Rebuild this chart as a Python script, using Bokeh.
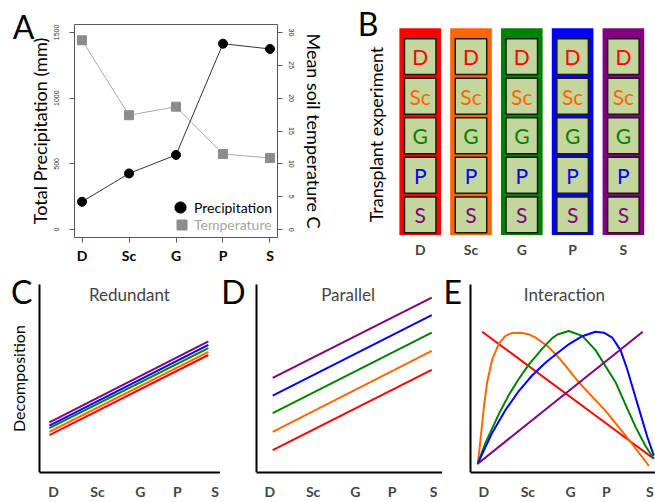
import math
from bokeh.plotting import figure
from bokeh.layouts import column, row
from bokeh.models import (Range1d, LinearAxis, FixedTicker, Label, Legend, LegendItem,
                          ColumnDataSource)
from bokeh.core.properties import value
from bokeh.embed import file_html
from bokeh.resources import INLINE

FONT = "Lato"

# ---------------- data ----------------
sites = ["D", "Sc", "G", "P", "S"]
site_pos = [1, 2, 3, 4, 5]
site_colors = ["#ff0000", "#ff6600", "#008000", "#0000ff", "#800080"]

# Panel A
precip = [212, 427, 568, 1414, 1374]
temp = [28.8, 17.4, 18.7, 11.5, 10.9]
precip_ticks = [0, 500, 1000, 1500]
temp_ticks = [0, 5, 10, 15, 20, 25, 30]

# Panel C (Redundant): start/end of the five lines
c_x = [5.4, 89.4]
c_start = [19.9, 21.6, 23.6, 25.0, 26.7]
c_end = [62.6, 64.3, 66.3, 68.0, 69.9]
c_ticks = [7.6, 30.8, 53.5, 73.0, 93.0]

# Panel D (Parallel)
d_x = [8.6, 91.3]
d_start = [11.9, 21.6, 31.6, 41.0, 50.4]
d_end = [54.7, 64.8, 74.5, 83.8, 93.2]
d_ticks = [7.1, 29.6, 51.6, 70.7, 92.3]

# Panel E (Interaction): curves
e_red_x = [6.3, 99.1]
e_red_y = [75.0, 7.3]
e_orange_x = [3.9, 5.4, 7.2, 9.0, 11.7, 15.3, 18.9, 22.5, 27.0, 31.5, 35.1, 42.3, 48.6, 58.5, 73.0, 85.6, 96.4]
e_orange_y = [4.2, 17.5, 34.5, 48.1, 60.1, 68.5, 72.8, 74.3, 74.5, 73.6, 71.9, 66.8, 60.1, 48.1, 32.8, 17.5, 3.6]
e_green_x = [3.9, 8.1, 15.3, 20.7, 26.1, 31.5, 38.8, 44.2, 47.0, 53.1, 60.4, 67.6, 73.0, 78.4, 83.8, 89.2, 94.6, 99.1]
e_green_y = [4.7, 15.8, 31.1, 41.3, 49.8, 57.5, 66.0, 71.6, 73.5, 75.4, 72.8, 65.2, 56.6, 48.1, 36.2, 24.3, 14.1, 7.3]
e_blue_x = [3.9, 11.7, 18.9, 26.1, 33.4, 40.5, 47.0, 53.1, 60.4, 67.6, 72.1, 76.6, 81.1, 84.7, 88.3, 91.9, 95.5, 99.1]
e_blue_y = [4.7, 21.1, 33.3, 43.4, 51.8, 58.5, 63.7, 68.3, 72.6, 75.0, 74.5, 71.9, 65.2, 55.0, 43.0, 31.1, 19.2, 9.0]
e_purple_x = [3.9, 93.1]
e_purple_y = [4.7, 75.0]
e_ticks = [7.2, 31.0, 54.1, 73.4, 96.9]


def base_fig(w, h, xr, yr, bl, br, bt, bb):
    p = figure(width=w, height=h, x_range=xr, y_range=yr, output_backend="svg",
               toolbar_location=None, x_axis_type=None, y_axis_type=None,
               min_border_left=bl, min_border_right=br, min_border_top=bt,
               min_border_bottom=bb)
    p.outline_line_color = None
    p.background_fill_color = "white"
    p.border_fill_color = "white"
    return p


def letter_label(txt, x, y):
    return Label(x=x, y=y, text=txt, text_font=FONT, text_font_size="32px",
                 text_baseline="alphabetic", text_color="black")


def letter_axis(tick, txt, standoff):
    ax = LinearAxis(ticker=FixedTicker(ticks=[tick]), major_label_overrides={tick: txt})
    ax.axis_line_color = None
    ax.major_tick_line_color = None
    ax.minor_tick_line_color = None
    ax.major_tick_out = 0
    ax.major_tick_in = 0
    ax.major_label_standoff = standoff
    ax.major_label_text_font = FONT
    ax.major_label_text_font_size = "32px"
    ax.major_label_text_color = "black"
    return ax


# ---------------- Panel A ----------------
pA = base_fig(340, 268, Range1d(0.84, 5.16), Range1d(-60, 1560), 74, 63, 23, 31)
pA.extra_y_ranges = {"temp": Range1d(-1.2, 31.2)}
pA.outline_line_color = "#555555"
pA.outline_line_width = 1

axb = LinearAxis(ticker=FixedTicker(ticks=site_pos),
                 major_label_overrides={k: s for k, s in zip(site_pos, sites)})
axl = LinearAxis(ticker=FixedTicker(ticks=precip_ticks), axis_label="Total Precipitation (mm)")
axr = LinearAxis(ticker=FixedTicker(ticks=temp_ticks), y_range_name="temp",
                 axis_label="Mean soil temperature C")
for ax in (axb, axl, axr):
    ax.axis_line_color = None
    ax.major_tick_out = 5
    ax.major_tick_in = 0
    ax.minor_tick_line_color = None
    ax.major_tick_line_color = "#555555"
    ax.axis_label_text_font = FONT
    ax.axis_label_text_font_style = "normal"
    ax.axis_label_text_font_size = "18px"
    ax.axis_label_text_color = "black"
axb.major_label_text_font = FONT
axb.major_label_text_font_style = "bold"
axb.major_label_text_font_size = "14px"
axb.major_label_text_color = "black"
axb.major_label_standoff = 4
for ax in (axl, axr):
    ax.major_label_text_font_size = "7px"
    ax.major_label_orientation = "vertical"
    ax.major_label_text_color = "#333333"
axl.major_label_standoff = 10
axl.axis_label_standoff = 1
axr.major_label_standoff = 6
axr.axis_label_standoff = 6
pA.add_layout(axb, "below")
pA.add_layout(axl, "left")
pA.add_layout(axr, "right")
# panel letter "A": the single tick label of an outer left axis
pA.add_layout(letter_axis(1545, "A", -9), "left")

srcA = ColumnDataSource(dict(x=site_pos, precip=precip, temp=temp))
pA.line("x", "temp", source=srcA, y_range_name="temp", line_color="#aaaaaa", line_width=1)
r_t = pA.scatter("x", "temp", source=srcA, y_range_name="temp", marker="square", size=9,
                 fill_color="#8c8c8c", line_color="#8c8c8c")
pA.line("x", "precip", source=srcA, line_color="#333333", line_width=1)
r_p = pA.scatter("x", "precip", source=srcA, marker="circle", size=9,
                 fill_color="black", line_color="black")

leg1 = Legend(items=[LegendItem(label="Precipitation", renderers=[r_p])], location=(92, 16),
              glyph_width=28, glyph_height=28, padding=0, margin=0, spacing=0,
              label_standoff=0, background_fill_alpha=0, border_line_color=None,
              label_text_font=FONT, label_text_font_size="14px", label_text_color="black",
              label_height=14)
leg2 = Legend(items=[LegendItem(label="Temperature", renderers=[r_t])], location=(95, 0),
              glyph_width=25, glyph_height=25, padding=0, margin=0, spacing=0,
              label_standoff=0, background_fill_alpha=0, border_line_color=None,
              label_text_font=FONT, label_text_font_size="14px", label_text_color="#a6a6a6",
              label_height=14)
pA.add_layout(leg1)
pA.add_layout(leg2)

# ---------------- Panel B ----------------
# frame shares top/bottom with panel A (y 23..237 of the row)
pB = base_fig(315, 268, Range1d(-0.569, 5.632), Range1d(5.574, 0.186), 0, 0, 23, 31)
col_src = ColumnDataSource(dict(x=site_pos, color=site_colors))
pB.rect(x="x", y=2.894, width=0.82, height=5.23, source=col_src,
        fill_color="color", line_color=None)
cell_x, cell_y, cell_txt, cell_col = [], [], [], []
for xi in site_pos:
    for j, s in enumerate(sites):
        cell_x.append(xi)
        cell_y.append(j + 1)
        cell_txt.append(s)
        cell_col.append(site_colors[j])
cell_src = ColumnDataSource(dict(x=cell_x, y=cell_y, t=cell_txt, c=cell_col))
pB.rect(x="x", y="y", width=0.62, height=0.907, source=cell_src,
        fill_color="#c3d69b", line_color="#1a1a1a", line_width=1.5)
pB.text(x="x", y="y", text="t", source=cell_src, text_color="c",
        text_font=value(FONT), text_font_size="21px", text_align="center",
        text_baseline="middle")
axBb = LinearAxis(ticker=FixedTicker(ticks=site_pos),
                  major_label_overrides={k: s for k, s in zip(site_pos, sites)})
axBb.axis_line_color = None
axBb.major_tick_line_color = None
axBb.minor_tick_line_color = None
axBb.major_tick_out = 0
axBb.major_label_text_font = FONT
axBb.major_label_text_font_style = "bold"
axBb.major_label_text_font_size = "14px"
axBb.major_label_standoff = 3
pB.add_layout(axBb, "below")
pB.add_layout(letter_axis(-0.028, "B", -18), "above")
pB.add_layout(Label(x=0.12, y=2.968, text="Transplant experiment", angle=math.pi / 2,
                    text_font=FONT, text_font_size="18px", text_align="center",
                    text_baseline="middle", text_color="black"))


# ---------------- Panels C, D, E ----------------
def concept(w, xstart, xend, ticks, title, tx):
    p = base_fig(w, 234, Range1d(xstart, xend), Range1d(0, 108.67), 0, 0, 0, 21)
    ab = LinearAxis(ticker=FixedTicker(ticks=ticks), bounds=(0, xend),
                    major_label_overrides={k: s for k, s in zip(ticks, sites)})
    ab.axis_line_color = "black"
    ab.axis_line_width = 2
    ab.major_tick_line_color = None
    ab.minor_tick_line_color = None
    ab.major_label_text_font = FONT
    ab.major_label_text_font_style = "bold"
    ab.major_label_text_font_size = "14px"
    ab.major_label_standoff = 4
    al = LinearAxis(ticker=FixedTicker(ticks=[]), fixed_location=0, bounds=(0, 100))
    al.axis_line_color = "black"
    al.axis_line_width = 2
    al.major_tick_line_color = None
    al.minor_tick_line_color = None
    al.major_tick_out = 0
    al.major_label_standoff = 0
    p.add_layout(ab, "below")
    p.add_layout(al, "left")
    p.add_layout(Label(x=tx, y=94.7, text=title, text_font=FONT, text_font_size="17px",
                       text_align="center", text_baseline="middle"))
    return p


pC = concept(220, -20.44, 95.8, c_ticks, "Redundant", 47.7)
for col, y0, y1 in zip(site_colors, c_start, c_end):
    pC.line(x=c_x, y=[y0, y1], line_color=col, line_width=2)
pC.add_layout(Label(x=-10.9, y=50.0, text="Decomposition", angle=math.pi / 2,
                    text_font=FONT, text_font_size="16px", text_align="center",
                    text_baseline="middle", text_color="black"))
pC.add_layout(letter_label("C", -14.9, 96.4))

pD = concept(222, -18.56, 96.9, d_ticks, "Parallel", 47.8)
for col, y0, y1 in zip(site_colors, d_start, d_end):
    pD.line(x=d_x, y=[y0, y1], line_color=col, line_width=2)
pD.add_layout(letter_label("D", -18.2, 96.4))

pE = concept(213, -15.14, 100, e_ticks, "Interaction", 50.8)
pE.line(x=e_red_x, y=e_red_y, line_color=site_colors[0], line_width=2)
pE.line(x=e_orange_x, y=e_orange_y, line_color=site_colors[1], line_width=2)
pE.line(x=e_green_x, y=e_green_y, line_color=site_colors[2], line_width=2)
pE.line(x=e_blue_x, y=e_blue_y, line_color=site_colors[3], line_width=2)
pE.line(x=e_purple_x, y=e_purple_y, line_color=site_colors[4], line_width=2)
pE.add_layout(letter_label("E", -14.6, 96.4))

layout = column(row(pA, pB), row(pC, pD, pE))
open("out.html", "w").write(file_html(layout, INLINE))
